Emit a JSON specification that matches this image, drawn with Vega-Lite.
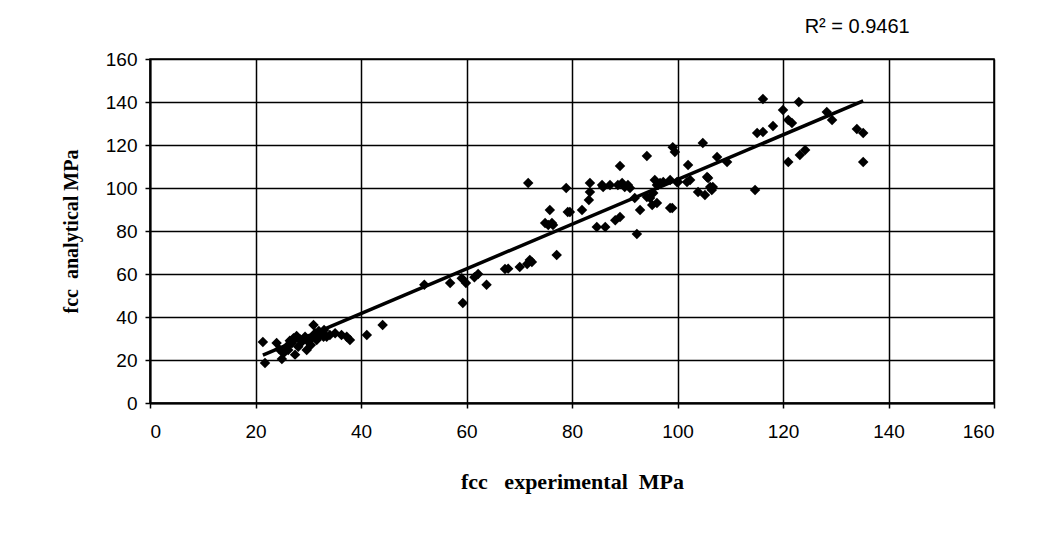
{
  "$schema": "https://vega.github.io/schema/vega-lite/v6.json",
  "width": 844,
  "height": 344,
  "autosize": "none",
  "padding": {"left": 150, "top": 59, "right": 53, "bottom": 137},
  "background": "white",
  "title": {"text": "R² = 0.9461", "anchor": "end", "dx": -85, "offset": 13, "font": "Liberation Sans", "fontSize": 20, "fontWeight": "normal", "color": "black"},
  "config": {
    "view": {"stroke": "black", "strokeWidth": 1.5},
    "axis": {
      "grid": true, "gridColor": "black", "gridOpacity": 1, "gridWidth": 1.5,
      "domainColor": "black", "domainWidth": 2, "tickColor": "black", "tickSize": 5, "tickWidth": 1.5,
      "labelFont": "Liberation Sans", "labelFontSize": 19, "labelColor": "black",
      "titleFont": "Liberation Serif", "titleFontWeight": "bold", "titleColor": "black"
    }
  },
  "datasets": {
    "points": [
      {"x":21.4,"y":28.4},{"x":21.8,"y":18.6},{"x":24,"y":27.9},{"x":25,"y":20.5},{"x":25.3,"y":23.1},{"x":25.9,"y":26.2},{"x":26.2,"y":24.6},{"x":26.9,"y":27.8},{"x":27.2,"y":30.1},{"x":27.8,"y":31.2},{"x":28.1,"y":26.2},{"x":28.8,"y":28.5},{"x":29.4,"y":30.8},{"x":29.7,"y":24.6},{"x":30,"y":28.5},{"x":30.6,"y":30.1},{"x":31,"y":36.3},{"x":31.3,"y":32.4},{"x":31.6,"y":29.3},{"x":32.2,"y":31.6},{"x":32.9,"y":30.8},{"x":33.5,"y":30.8},{"x":34.1,"y":31.6},{"x":35.1,"y":32.4},{"x":36.3,"y":31.6},{"x":37.3,"y":30.8},{"x":37.9,"y":29.3},{"x":41.1,"y":31.6},{"x":44.1,"y":36.3},
      {"x":26.5,"y":29},{"x":28.5,"y":29.5},{"x":30.5,"y":27},{"x":32,"y":33.5},{"x":33,"y":34},{"x":24.5,"y":25},{"x":27.5,"y":22.5},
      {"x":52,"y":55},{"x":56.9,"y":55.8},{"x":59.1,"y":58},{"x":59.9,"y":55.8},{"x":59.3,"y":46.5},{"x":62.2,"y":60},{"x":63.8,"y":55},{"x":67.3,"y":62.3},{"x":67.9,"y":62.5},{"x":70.1,"y":63.3},{"x":71.5,"y":64.7},{"x":72.4,"y":65.6},{"x":61.5,"y":58.5},
      {"x":71.7,"y":102.3},{"x":78.9,"y":100},{"x":75.8,"y":89.8},{"x":75.5,"y":82.8},{"x":76.4,"y":82.8},{"x":74.9,"y":83.7},{"x":77.1,"y":68.8},{"x":79.2,"y":88.8},{"x":81.9,"y":89.8},{"x":83.4,"y":102.3},{"x":83.4,"y":98.1},{"x":83.2,"y":94.4},{"x":84.7,"y":81.9},{"x":86.3,"y":81.9},{"x":85.9,"y":100.5},{"x":87.2,"y":101.4},{"x":89.1,"y":110.2},{"x":88.2,"y":85},{"x":89.1,"y":86.5},{"x":89.5,"y":102.3},{"x":90,"y":100.5},{"x":91,"y":100},{"x":92.3,"y":78.6},{"x":92.9,"y":89.8},{"x":91.9,"y":95.3},{"x":94.2,"y":114.9},{"x":94.8,"y":95.3},{"x":95.2,"y":92.1},{"x":95.4,"y":97.7},{"x":95.7,"y":103.7},{"x":96.1,"y":101.4},{"x":96.7,"y":102.3},{"x":98.6,"y":90.7},{"x":99.1,"y":119},{"x":99.5,"y":116.7},{"x":98.6,"y":103.7},{"x":100.1,"y":102.8},{"x":102,"y":110.7},{"x":101.8,"y":102.8},{"x":102.4,"y":103.7},{"x":104.8,"y":120.9},{"x":103.9,"y":98.1},{"x":105.2,"y":96.7},{"x":105.8,"y":104.7},{"x":106.2,"y":100.5},{"x":106.7,"y":100.5},{"x":107.5,"y":114.4},{"x":109.4,"y":112.1},{"x":116.2,"y":141.4},{"x":123,"y":140},{"x":120,"y":136.3},{"x":121,"y":131.6},{"x":121.7,"y":130.2},{"x":115.1,"y":125.6},{"x":116.2,"y":126},{"x":118.1,"y":128.8},{"x":128.3,"y":135.3},{"x":129.3,"y":131.6},{"x":134,"y":127.4},{"x":135.2,"y":125.6},{"x":135.2,"y":112.1},{"x":121,"y":112.1},{"x":123.2,"y":115.3},{"x":124.2,"y":117.7},{"x":114.7,"y":99.1},{"x":96.1,"y":93},{"x":94.2,"y":95.8},{"x":96.3,"y":101.4},{"x":97.3,"y":102.8},{"x":99.9,"y":102.8},{"x":99,"y":90.7},{"x":106.5,"y":99.1},{"x":105.6,"y":105.1},{"x":85.7,"y":101.4},{"x":88.7,"y":101.4},{"x":90.6,"y":101.4},{"x":79.6,"y":88.8},{"x":72,"y":66.5},{"x":76.2,"y":83.7}
    ],
    "trend": [{"x":21.4,"y":22.3},{"x":135.2,"y":140.5}]
  },
  "layer": [
    {
      "data": {"name": "points"},
      "mark": {"type": "point", "shape": "diamond", "filled": true, "color": "black", "opacity": 1, "size": 110},
      "encoding": {
        "x": {"field": "x", "type": "quantitative", "scale": {"domain": [0, 160], "nice": false},
              "axis": {"values": [0,20,40,60,80,100,120,140,160], "labelPadding": 14, "title": "fcc\u00a0\u00a0\u00a0experimental\u00a0\u00a0MPa", "titleFontSize": 22, "titlePadding": 30}},
        "y": {"field": "y", "type": "quantitative", "scale": {"domain": [0, 160], "nice": false},
              "axis": {"values": [0,20,40,60,80,100,120,140,160], "labelPadding": 8, "title": "fcc\u00a0\u00a0analytical MPa", "titleFontSize": 20, "titlePadding": 24}}
      }
    },
    {
      "data": {"name": "trend"},
      "mark": {"type": "line", "color": "black", "strokeWidth": 3.5},
      "encoding": {
        "x": {"field": "x", "type": "quantitative"},
        "y": {"field": "y", "type": "quantitative"}
      }
    }
  ]
}
